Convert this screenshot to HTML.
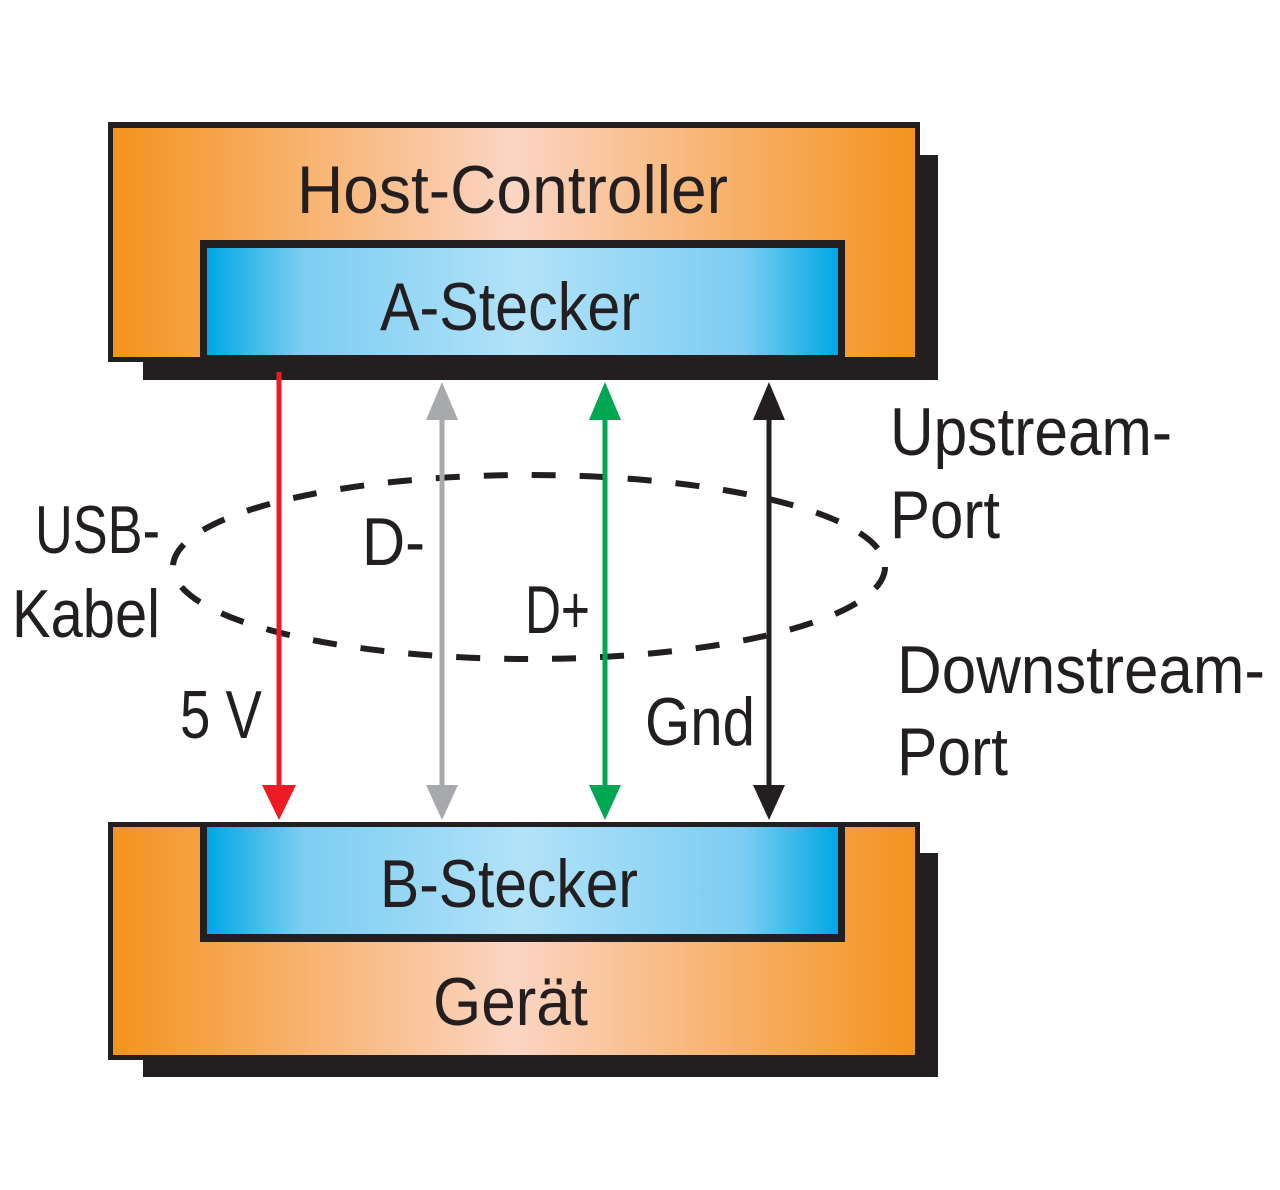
<!DOCTYPE html>
<html><head><meta charset="utf-8"><style>html,body{margin:0;padding:0;background:#fff}svg{display:block}</style></head>
<body>
<svg width="1280" height="1190" viewBox="0 0 1280 1190" xmlns="http://www.w3.org/2000/svg">
<defs>
<linearGradient id="og" x1="0" x2="1" y1="0" y2="0">
<stop offset="0" stop-color="#f4931f"/><stop offset="0.5" stop-color="#fbd5c4"/><stop offset="1" stop-color="#f4931f"/>
</linearGradient>
<linearGradient id="bg" x1="0" x2="1" y1="0" y2="0">
<stop offset="0" stop-color="#00a7e4"/><stop offset="0.15" stop-color="#7ccdf2"/><stop offset="0.5" stop-color="#b2e2f8"/><stop offset="0.85" stop-color="#7ccdf2"/><stop offset="1" stop-color="#00a7e4"/>
</linearGradient>
</defs>
<g font-family="Liberation Sans, sans-serif" font-size="68" fill="#231f20">
<rect x="143" y="155" width="795" height="225" fill="#231f20"/>
<rect x="108" y="122" width="812" height="240" fill="#231f20"/>
<rect x="113" y="128" width="802" height="229" fill="url(#og)"/>
<rect x="200" y="240" width="645" height="122" fill="#231f20"/>
<rect x="207" y="248" width="631" height="107" fill="url(#bg)"/>
<text x="297" y="213" textLength="431" lengthAdjust="spacingAndGlyphs">Host-Controller</text>
<text x="380" y="330" textLength="260" lengthAdjust="spacingAndGlyphs">A-Stecker</text>
<rect x="143" y="853" width="795" height="224" fill="#231f20"/>
<rect x="108" y="822" width="812" height="238" fill="#231f20"/>
<rect x="113" y="827" width="802" height="228" fill="url(#og)"/>
<rect x="200" y="822" width="645" height="120" fill="#231f20"/>
<rect x="207" y="827" width="631" height="107" fill="url(#bg)"/>
<text x="380" y="907" textLength="258" lengthAdjust="spacingAndGlyphs">B-Stecker</text>
<text x="433" y="1025" textLength="155" lengthAdjust="spacingAndGlyphs">Gerät</text>
<ellipse cx="529" cy="567" rx="356" ry="92" fill="none" stroke="#231f20" stroke-width="6" stroke-dasharray="24 24"/>
<line x1="279" y1="372" x2="279" y2="800" stroke="#ed1c24" stroke-width="5"/>
<polygon points="262,785 296,785 279,820" fill="#ed1c24"/>
<line x1="442" y1="400" x2="442" y2="800" stroke="#a7a9ac" stroke-width="5"/>
<polygon points="426,420 458,420 442,382" fill="#a7a9ac"/>
<polygon points="426,785 458,785 442,820" fill="#a7a9ac"/>
<line x1="605" y1="400" x2="605" y2="800" stroke="#00a651" stroke-width="5"/>
<polygon points="589,420 621,420 605,382" fill="#00a651"/>
<polygon points="589,785 621,785 605,820" fill="#00a651"/>
<line x1="769" y1="400" x2="769" y2="800" stroke="#231f20" stroke-width="5"/>
<polygon points="753,420 785,420 769,382" fill="#231f20"/>
<polygon points="753,785 785,785 769,820" fill="#231f20"/>
<text x="35" y="553" textLength="125" lengthAdjust="spacingAndGlyphs">USB-</text>
<text x="12" y="637" textLength="148" lengthAdjust="spacingAndGlyphs">Kabel</text>
<text x="362" y="565" textLength="63" lengthAdjust="spacingAndGlyphs">D-</text>
<text x="525" y="633" textLength="65" lengthAdjust="spacingAndGlyphs">D+</text>
<text x="180" y="738" textLength="82" lengthAdjust="spacingAndGlyphs">5 V</text>
<text x="645" y="745" textLength="110" lengthAdjust="spacingAndGlyphs">Gnd</text>
<text x="890" y="455" textLength="282" lengthAdjust="spacingAndGlyphs">Upstream-</text>
<text x="890" y="538" textLength="110" lengthAdjust="spacingAndGlyphs">Port</text>
<text x="897" y="693" textLength="368" lengthAdjust="spacingAndGlyphs">Downstream-</text>
<text x="897" y="775" textLength="111" lengthAdjust="spacingAndGlyphs">Port</text>
</g>
</svg>
</body></html>
